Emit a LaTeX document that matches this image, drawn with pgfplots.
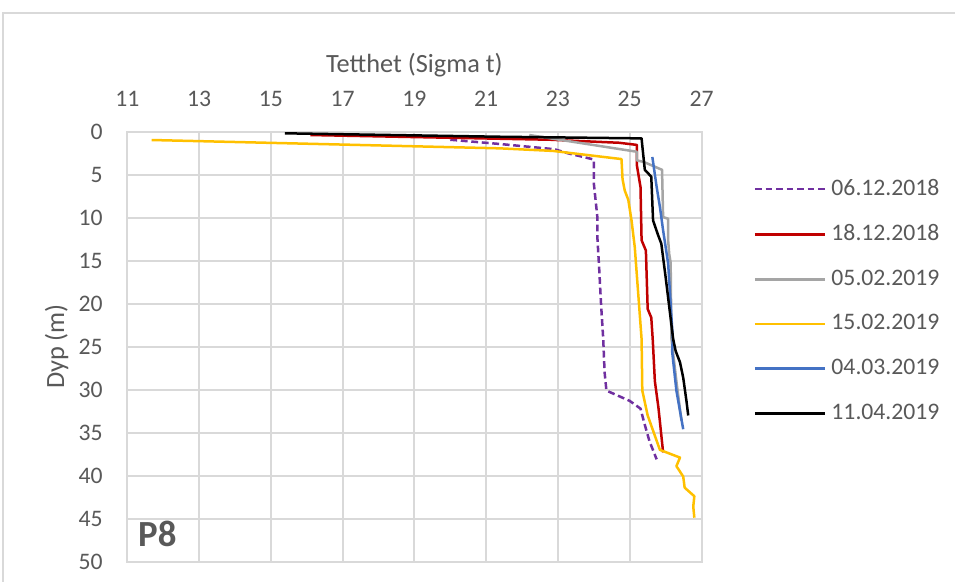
\documentclass[border=0pt]{standalone}
\usepackage{fontspec}
\setmainfont{Carlito}
\usepackage{pgfplots}
\pgfplotsset{compat=1.18}
\definecolor{txt}{HTML}{595959}
\definecolor{grd}{HTML}{D9D9D9}
\definecolor{cpurple}{HTML}{7030A0}
\definecolor{cred}{HTML}{C00000}
\definecolor{cgray}{HTML}{A5A5A5}
\definecolor{cyellow}{HTML}{FFC000}
\definecolor{cblue}{HTML}{4472C4}
\begin{document}
\begin{tikzpicture}
\begin{scope}[x=0.38pt,y=-0.38pt]
\draw[grd, line width=0.5pt] (3,13) rectangle (975,600);
\end{scope}
\begin{axis}[
 at={(48.374pt,-50.16pt)}, anchor=north west,
 scale only axis, width=218.2pt, height=163.21pt,
 xmin=11, xmax=27, ymin=0, ymax=50, y dir=reverse,
 xtick={11,13,...,27}, ytick={0,5,...,50},
 xticklabel pos=upper,
 grid=major, major grid style={grd, line width=0.75pt},
 axis line style={grd, line width=0.75pt},
 tick style={draw=none},
 tick label style={text=txt, font=\fontsize{9}{10.8}\selectfont},
 /pgf/number format/assume math mode=true,
 xticklabel style={anchor=south, yshift=6pt},
 yticklabel style={anchor=east, xshift=-5.8pt},
 xlabel={Tetthet (Sigma t)},
 xlabel style={at={(axis description cs:0.5,1)}, anchor=base, yshift=22.8pt, text=txt, font=\fontsize{10}{12}\selectfont},
 ylabel={Dyp (m)},
 ylabel style={at={(axis description cs:-0.1102,0.5006)}, anchor=base, text=txt, font=\fontsize{10}{12}\selectfont},
 legend style={at={(axis description cs:1.09,0.6065)}, anchor=west, draw=none, fill=none, inner sep=0pt, row sep=5.6pt, font=\fontsize{9}{10.8}\selectfont, text=txt, cells={anchor=west}},
 legend image code/.code={\draw[#1] (0pt,0pt) -- (26.6pt,0pt);},
 every axis plot/.append style={line width=0.95pt, line join=round, mark=none},
]
\addplot[cpurple, dash pattern=on 2.6pt off 1.4pt] coordinates {
(20.0,0.9) (21.4,1.4) (22.9,2.0) (23.3,2.5) (24.0,3.2) (24.0,3.7) (24.0,6) (24.1,10) (24.1,12.4) (24.15,16) (24.2,20) (24.26,24) (24.3,28) (24.35,30.1) (25.0,31.3) (25.3,32.2) (25.4,33.8) (25.55,36) (25.75,38.1)
};
\addlegendentry{06.12.2018}
\addplot[cred] coordinates {
(16.1,0.35) (22.8,0.9) (24.7,1.25) (25.2,1.5) (25.2,3.9) (25.3,6.4) (25.33,12.6) (25.45,13.8) (25.5,20.6) (25.6,21.6) (25.64,24.1) (25.7,29) (25.8,32.1) (25.93,37.3)
};
\addlegendentry{18.12.2018}
\addplot[cgray] coordinates {
(22.2,0.35) (25.2,2.3) (25.2,3.3) (25.4,3.5) (25.9,4.4) (25.93,9.9) (26.07,10.1) (26.07,12.6) (26.1,14.2) (26.14,15.2) (26.16,24) (26.3,29) (26.44,33.6)
};
\addlegendentry{05.02.2019}
\addplot[cyellow] coordinates {
(11.68,0.93) (21.38,1.9) (22.86,2.2) (24.77,3.15) (24.8,5.5) (24.86,6.8) (24.96,7.9) (25.05,10.3) (25.14,13.4) (25.33,24.1) (25.35,30.1) (25.5,33) (25.84,37) (26.4,37.9) (26.3,38.9) (26.49,40.1) (26.53,41.4) (26.8,42.4) (26.77,43.6) (26.8,44.9)
};
\addlegendentry{15.02.2019}
\addplot[cblue] coordinates {
(25.63,2.9) (25.75,6.4) (25.84,8.7) (25.93,11.45) (26.07,15.3) (26.2,24.1) (26.18,25.5) (26.3,30.1) (26.49,34.6)
};
\addlegendentry{04.03.2019}
\addplot[black] coordinates {
(15.39,0.15) (21.38,0.55) (25.33,0.74) (25.35,1.6) (25.42,4.4) (25.6,5.2) (25.65,10.3) (25.79,12) (25.88,13) (26.0,16.9) (26.21,24.1) (26.28,25.5) (26.4,26.8) (26.49,28.6) (26.58,31.3) (26.63,33)
};
\addlegendentry{11.04.2019}
\end{axis}
\begin{scope}[x=0.38pt,y=-0.38pt]
\node[anchor=base west, inner sep=0pt, text=txt, font=\bfseries\fontsize{14}{16}\selectfont] at (137.7,546.7) {P8};
\end{scope}
\pgfresetboundingbox
\path[use as bounding box] (0pt,0pt) rectangle (362.9pt,-220.78pt);
\end{tikzpicture}
\end{document}
